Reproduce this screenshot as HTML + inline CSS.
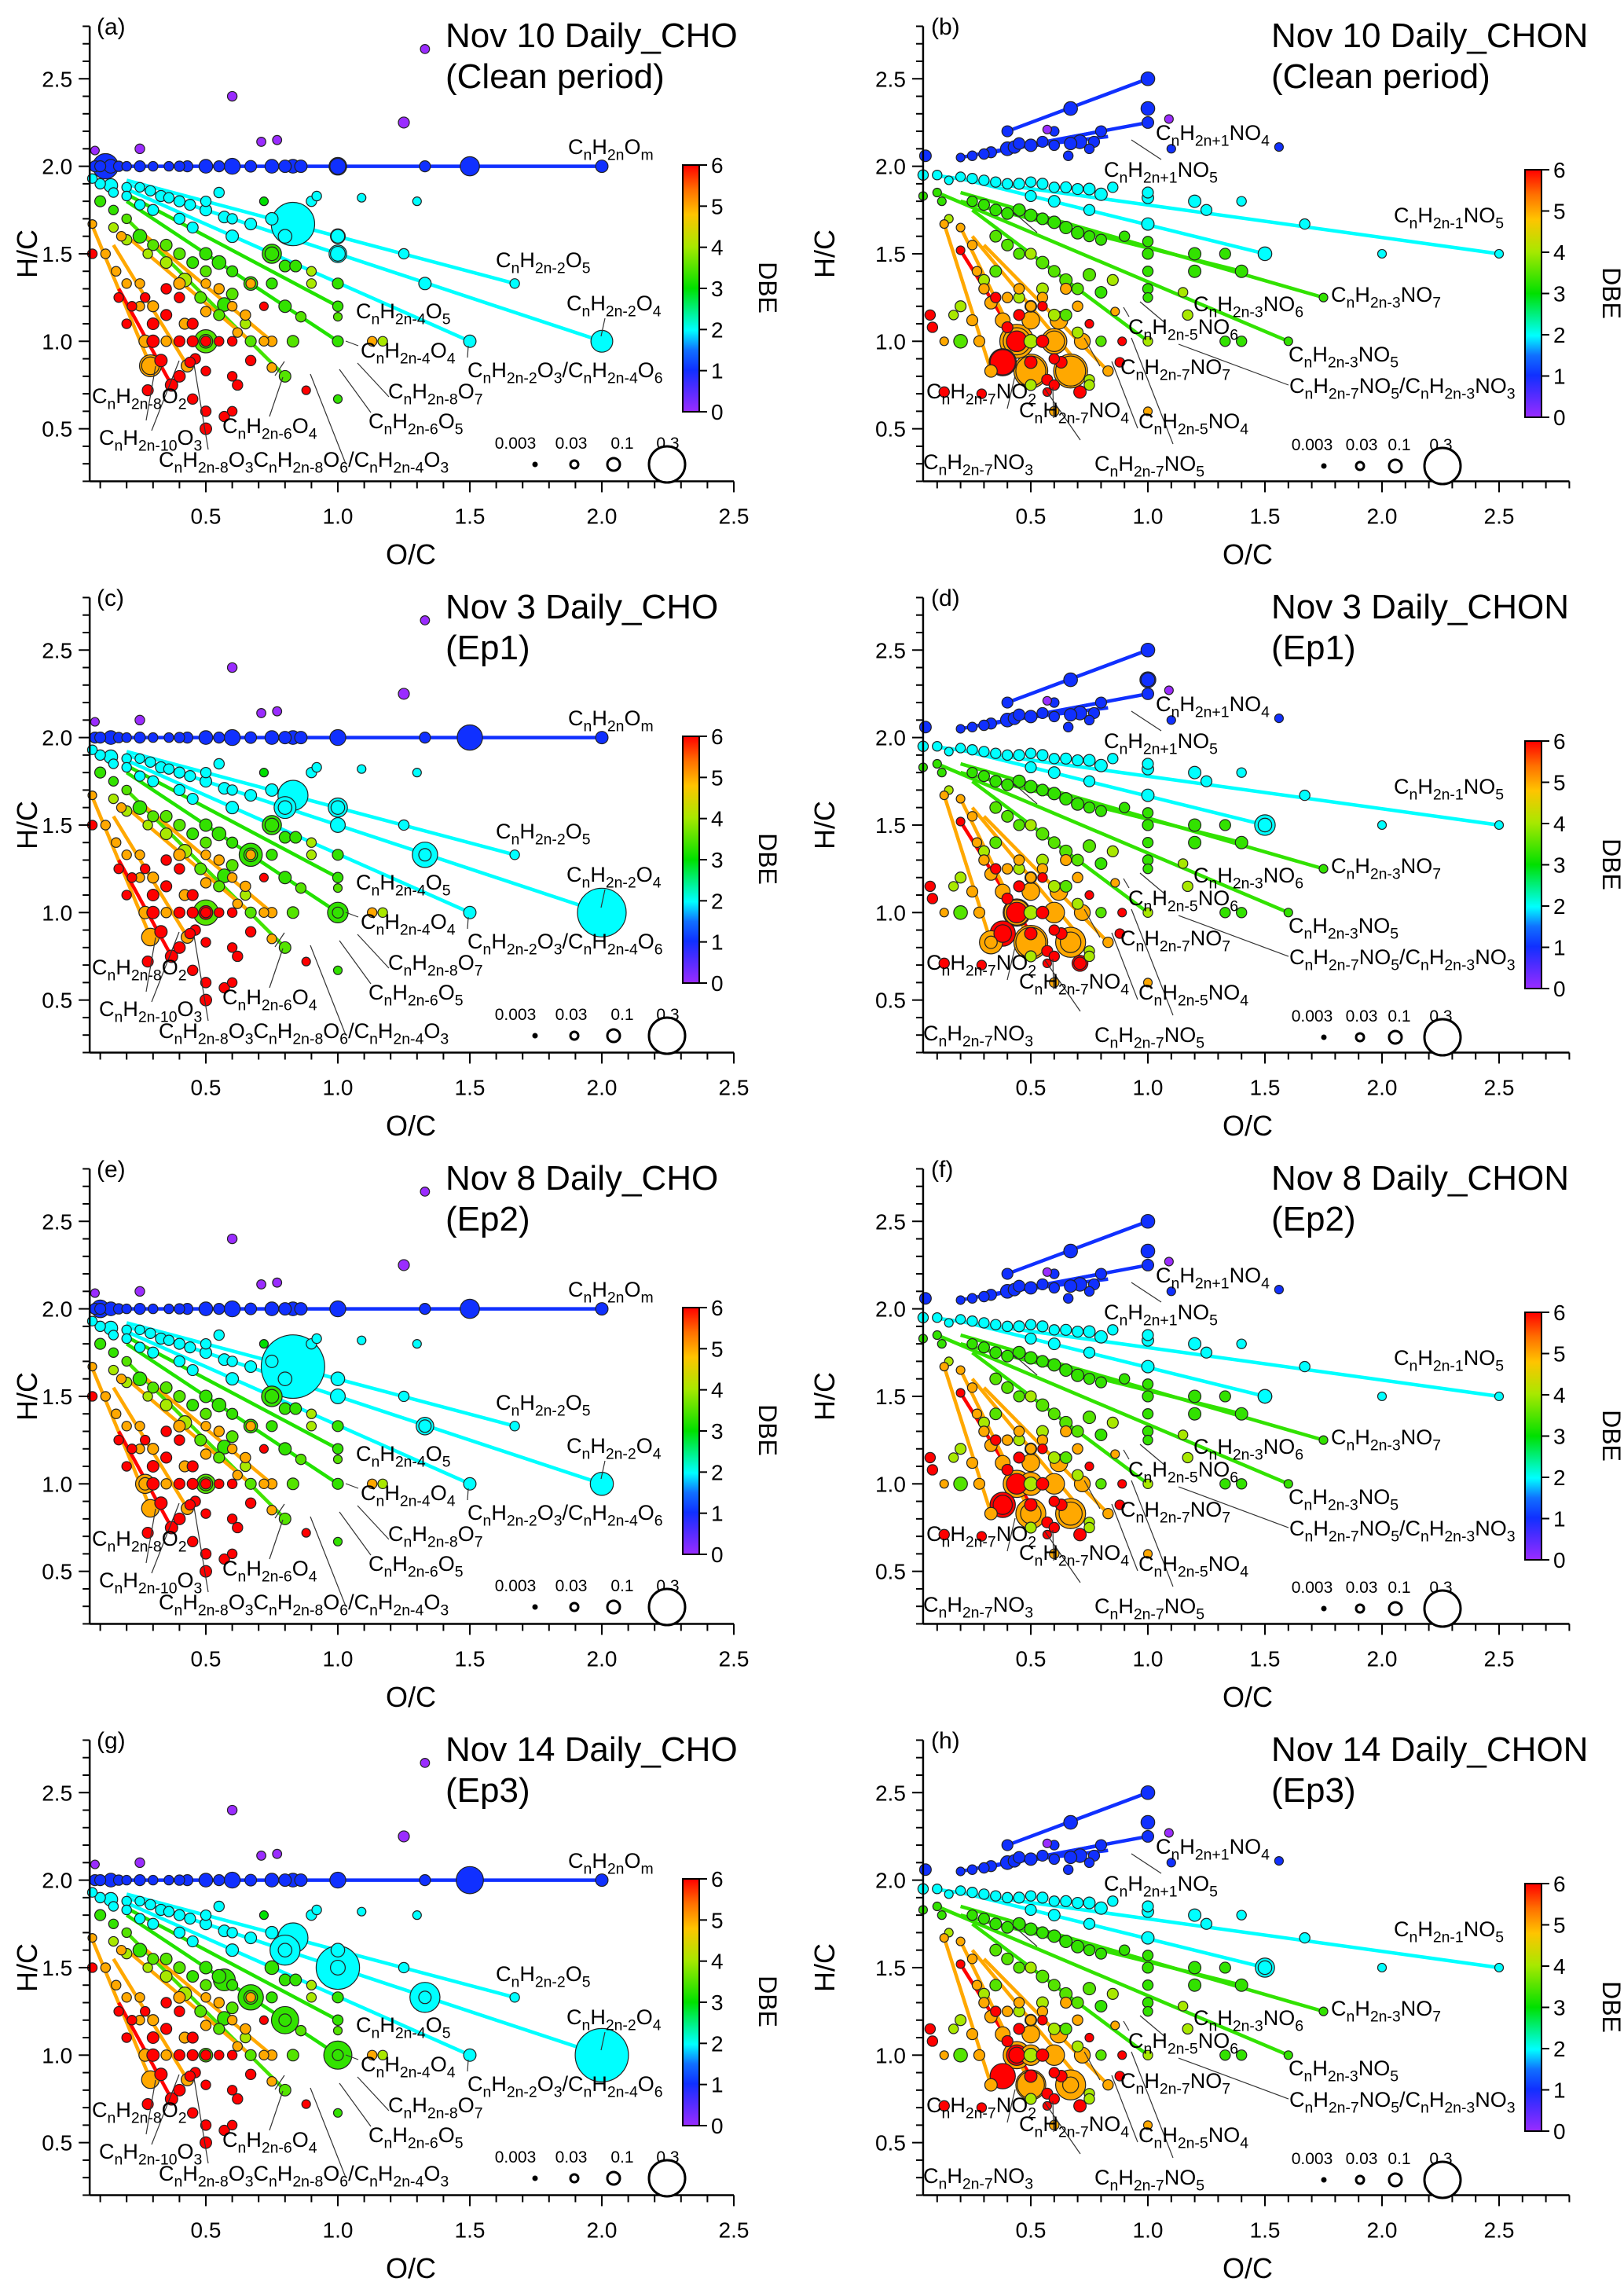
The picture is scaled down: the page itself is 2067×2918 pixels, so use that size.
<!DOCTYPE html>
<html><head><meta charset="utf-8">
<style>
html,body{margin:0;padding:0;background:#fff;}
svg{display:block;font-family:"Liberation Sans",Arial,sans-serif;}
</style></head>
<body>
<svg id="fig" width="2067" height="2918" viewBox="0 0 2067 2918" xmlns="http://www.w3.org/2000/svg">
<defs>
<linearGradient id="dbeGrad" x1="0" y1="1" x2="0" y2="0">
<stop offset="0" stop-color="#9a2cff"/>
<stop offset="0.1" stop-color="#4a2cff"/>
<stop offset="0.17" stop-color="#1030ff"/>
<stop offset="0.25" stop-color="#1070ff"/>
<stop offset="0.33" stop-color="#00ffff"/>
<stop offset="0.5" stop-color="#00e000"/>
<stop offset="0.67" stop-color="#a8e800"/>
<stop offset="0.8" stop-color="#ffc400"/>
<stop offset="0.9" stop-color="#ff7000"/>
<stop offset="1" stop-color="#ff0000"/>
</linearGradient>
</defs>
</svg>
<script>
// ---------- data ----------
const panelLetters = ['a','b','c','d','e','f','g','h'];
const panelTitles1 = ['Nov 10 Daily_CHO','Nov 10 Daily_CHON','Nov 3 Daily_CHO','Nov 3 Daily_CHON','Nov 8 Daily_CHO','Nov 8 Daily_CHON','Nov 14 Daily_CHO','Nov 14 Daily_CHON'];
const panelTitles2 = ['(Clean period)','(Clean period)','(Ep1)','(Ep1)','(Ep2)','(Ep2)','(Ep3)','(Ep3)'];
const xTickLabels = ['0.5','1.0','1.5','2.0','2.5'];
const xTickValues = [0.5,1.0,1.5,2.0,2.5];
const yTickLabels = ['0.5','1.0','1.5','2.0','2.5'];
const yTickValues = [0.5,1.0,1.5,2.0,2.5];
const dbeTicks = [0,1,2,3,4,5,6];
const sizeLegendLabels = ['0.003','0.03','0.1','0.3'];
const sizeLegendValues = [0.003,0.03,0.1,0.3];

// CHO family lines: [oc1,hc1,oc2,hc2,dbe]
const choLines = [
 [0.08,2.0,2.0,2.0,1],
 [0.2,1.92,1.67,1.33,2],
 [0.2,1.9,2.0,1.0,2],
 [0.2,1.87,1.5,1.0,2],
 [0.2,1.84,1.0,1.2,3.2],
 [0.2,1.8,1.0,1.0,3.2],
 [0.2,1.7,0.8,0.8,3.4],
 [0.25,1.63,0.75,1.0,5],
 [0.2,1.6,0.67,1.0,5],
 [0.07,1.66,0.29,0.86,5],
 [0.15,1.55,0.43,0.86,5],
 [0.17,1.3,0.37,0.75,6]
];
// CHO scatter: [oc,hc,dbe,size-fraction]
const choPts = [
 [0.08,2,1,.01],[0.1,2,1,.01],[0.14,2,1,.02],[0.17,2,1,.008],[0.2,2,1,.006],[0.25,2,1,.01],[0.3,2,1,.006],[0.36,2,1,.006],[0.4,2,1,.008],[0.43,2,1,.01],[0.5,2,1,.02],[0.55,2,1,.01],[0.6,2,1,.03],[0.67,2,1,.012],[0.75,2,1,.02],[0.8,2,1,.015],[0.83,2,1,.02],[0.86,2,1,.015],[1.0,2,1,.03],[1.33,2,1,.01],[2.0,2,1,.015],
 [0.6,2.4,0,.006],[1.33,2.67,0,.005],[1.25,2.25,0,.01],[0.71,2.14,0,.005],[0.77,2.15,0,.005],[0.25,2.1,0,.006],[0.08,2.09,0,.004],
 [0.07,1.93,2,.006],[0.1,1.9,2,.008],[0.14,1.89,2,.02],[0.2,1.88,2,.006],[0.25,1.88,2,.006],[0.29,1.86,2,.008],[0.33,1.83,2,.01],[0.36,1.82,2,.008],[0.4,1.8,2,.01],[0.44,1.78,2,.01],[0.5,1.8,2,.008],[0.5,1.75,2,.012],[0.57,1.71,2,.012],[0.6,1.7,2,.008],[0.6,1.6,2,.015],[0.67,1.67,2,.012],[0.75,1.7,2,.015],[0.8,1.6,2,.02],[0.9,1.8,2,.008],[1.0,1.6,2,.02],[1.0,1.5,2,.025],[1.25,1.5,2,.008],[1.33,1.33,2,.015],[1.67,1.33,2,.006],[1.5,1.0,2,.015],[1.09,1.82,2,.004],[1.3,1.8,2,.004],[0.25,1.78,2,.008],[0.3,1.75,2,.01],[0.4,1.7,2,.01],[0.45,1.65,2,.01],[0.55,1.85,2,.008],[0.2,1.83,2,.006],[0.15,1.85,2,.006],[0.92,1.83,2,.006],
 [0.1,1.8,3.3,.01],[0.15,1.75,3.3,.006],[0.2,1.7,3.5,.006],[0.25,1.6,3.3,.02],[0.3,1.55,3.5,.01],[0.35,1.55,3.5,.012],[0.4,1.5,3.5,.012],[0.45,1.45,3.3,.012],[0.5,1.5,3.3,.015],[0.5,1.4,3.5,.01],[0.55,1.45,3.3,.02],[0.6,1.4,3.3,.01],[0.67,1.33,3.3,.02],[0.6,1.27,3.5,.012],[0.57,1.21,3.3,.02],[0.75,1.5,3.3,.02],[0.8,1.43,3.3,.012],[0.75,1.33,3.3,.01],[0.8,1.2,3.3,.015],[0.86,1.14,3.5,.008],[1.0,1.33,3.3,.01],[1.0,1.2,3.3,.008],[1.0,1.14,3.5,.004],[1.0,1.0,3.3,.01],[0.83,1.0,3.5,.012],[0.8,0.8,3.5,.012],[0.67,1.0,3.5,.01],[0.5,1.0,3.5,.02],[0.2,1.58,4,.008],[0.28,1.5,4,.006],[0.35,1.45,4,.012],[0.42,1.35,4,.02],[0.48,1.25,3.5,.012],[0.55,1.15,3.5,.01],[0.65,1.1,4,.008],[1.17,1.0,4,.006],[1.0,0.67,3.3,.004],[0.15,1.65,4,.006],[0.9,1.4,4,.006],[0.9,1.33,4,.006],[0.84,1.43,3.3,.012],[0.72,1.8,3,.004],
 [0.07,1.67,5,.004],[0.12,1.5,5,.006],[0.16,1.4,5,.006],[0.2,1.33,5,.006],[0.25,1.2,5,.006],[0.27,1.0,5,.015],[0.29,0.86,5,.04],[0.4,1.33,5,.012],[0.42,1.1,5,.01],[0.43,0.86,5,.015],[0.5,1.17,5,.008],[0.6,1.2,5,.006],[0.62,1.05,5,.006],[0.67,1.33,5,.006],[0.72,1.0,5,.006],[0.75,1.0,5,.008],[0.3,1.2,5,.01],[0.35,1.0,5,.008],[0.5,1.33,5,.006],[0.55,1.3,5,.008],[1.13,1.0,5,.006],[0.65,1.15,5,.008],[0.25,1.33,5,.006],[0.18,1.6,5,.006],[0.75,0.85,5,.006],
 [0.07,1.5,6,.006],[0.17,1.25,6,.006],[0.2,1.1,6,.006],[0.3,1.0,6,.015],[0.33,0.89,6,.015],[0.37,0.75,6,.015],[0.4,0.8,6,.012],[0.3,1.1,6,.012],[0.35,1.15,6,.01],[0.4,1.0,6,.01],[0.45,1.0,6,.01],[0.45,1.1,6,.01],[0.5,1.0,6,.008],[0.5,0.83,6,.006],[0.5,0.6,6,.008],[0.5,0.5,6,.012],[0.45,0.67,6,.008],[0.28,0.72,6,.01],[0.6,0.8,6,.006],[0.62,0.75,6,.008],[0.57,0.57,6,.008],[0.6,0.6,6,.006],[0.6,1.0,6,.006],[0.67,0.89,6,.008],[0.72,1.2,6,.004],[0.88,0.72,6,.004],[0.55,1.0,6,.006],[0.35,1.3,6,.008],[0.4,1.25,6,.008],[0.27,1.25,6,.006],[0.22,1.2,6,.006],[0.46,0.9,6,.008],[0.44,0.88,6,.008]
];
// per-panel emphasized CHO bubbles
const choBigA = [[0.12,2.0,1,.1],[1.5,2.0,1,.05],[1.0,2.0,1,.04],[0.83,1.67,2,.35],[2.0,1.0,2,.07],[0.29,0.86,5,.07],[0.5,1.0,3.5,.08],[0.75,1.5,3.3,.05],[1.0,1.5,2,.04],[1.0,1.6,2,.025]];
const choBigC = [[1.5,2.0,1,.1],[2.0,1.0,2,.45],[0.83,1.67,2,.15],[1.33,1.33,2,.1],[1.0,1.6,2,.05],[0.5,1.0,3.5,.1],[0.67,1.33,3.3,.08],[0.75,1.5,3.3,.05],[0.8,1.6,2,.07],[1.0,1.0,3.3,.06],[0.5,1.0,6,.02]];
const choBigE = [[0.83,1.67,2,.8],[2.0,1.0,2,.08],[1.5,2.0,1,.05],[1.33,1.33,2,.04],[0.75,1.5,3.3,.06],[0.27,1.0,5,.05],[0.5,1.0,3.5,.05],[0.1,2.0,1,.04]];
const choBigG = [[2.0,1.0,2,.55],[1.0,1.5,2,.35],[1.5,2.0,1,.12],[0.83,1.67,2,.15],[0.8,1.6,2,.15],[1.33,1.33,2,.15],[0.8,1.2,3.3,.12],[1.0,1.0,3.3,.13],[0.67,1.33,3.3,.1],[0.57,1.43,3.3,.07]];

// CHON family lines
const chonLines = [
 [0.4,2.2,1.0,2.5,1],
 [0.2,2.05,1.0,2.25,1],
 [0.3,2.07,0.8,2.2,1],
 [0.4,2.1,0.83,2.17,1],
 [0.08,1.95,2.5,1.5,2],
 [0.2,1.93,1.5,1.5,2],
 [0.2,1.85,1.75,1.25,3.3],
 [0.1,1.85,1.6,1.0,3.3],
 [0.2,1.8,1.4,1.4,3.3],
 [0.25,1.75,1.0,1.0,3.3],
 [0.13,1.67,0.33,0.83,5],
 [0.2,1.52,0.5,0.88,6],
 [0.2,1.65,0.5,0.83,5],
 [0.25,1.6,0.71,0.86,5],
 [0.3,1.55,0.83,0.83,5]
];
const chonPts = [
 [0.05,2.06,1,.012],[0.2,2.05,1,.004],[0.25,2.06,1,.006],[0.3,2.07,1,.008],[0.33,2.08,1,.01],[0.4,2.1,1,.02],[0.43,2.11,1,.015],[0.45,2.13,1,.012],[0.5,2.12,1,.015],[0.55,2.14,1,.01],[0.6,2.12,1,.008],[0.67,2.13,1,.015],[0.71,2.14,1,.02],[0.75,2.1,1,.006],[0.4,2.2,1,.01],[0.6,2.2,1,.006],[0.67,2.33,1,.02],[0.8,2.2,1,.01],[1.0,2.5,1,.02],[1.0,2.33,1,.02],[1.0,2.25,1,.012],[1.1,2.1,1,.004],[1.56,2.11,1,.004],[0.57,2.21,0,.004],[1.09,2.27,0,.004],[0.66,2.06,1,.006],[0.77,2.14,1,.01],
 [0.04,1.95,2,.008],[0.1,1.95,2,.006],[0.2,1.94,2,.006],[0.25,1.93,2,.008],[0.3,1.92,2,.008],[0.35,1.91,2,.008],[0.4,1.9,2,.008],[0.45,1.9,2,.01],[0.5,1.91,2,.008],[0.55,1.9,2,.01],[0.6,1.88,2,.008],[0.65,1.88,2,.01],[0.7,1.87,2,.01],[0.75,1.87,2,.012],[0.8,1.84,2,.015],[0.85,1.88,2,.008],[0.5,1.83,2,.01],[0.6,1.8,2,.012],[0.75,1.75,2,.01],[1.0,1.85,2,.01],[1.0,1.82,2,.012],[1.0,1.67,2,.015],[1.2,1.8,2,.015],[1.25,1.75,2,.01],[1.4,1.8,2,.006],[1.67,1.67,2,.008],[1.5,1.5,2,.02],[2.0,1.5,2,.004],[2.5,1.5,2,.004],[0.15,1.92,2,.004],
 [0.04,1.83,3.3,.004],[0.1,1.85,3.3,.004],[0.12,1.8,3.3,.004],[0.25,1.8,3.3,.008],[0.3,1.78,3.3,.01],[0.35,1.75,3.3,.012],[0.4,1.73,3.3,.012],[0.45,1.75,3.3,.015],[0.5,1.72,3.3,.015],[0.55,1.7,3.3,.012],[0.6,1.68,3.3,.015],[0.65,1.65,3.3,.015],[0.7,1.62,3.3,.015],[0.75,1.6,3.3,.01],[0.8,1.58,3.3,.01],[0.9,1.6,3.3,.008],[1.0,1.57,3.3,.008],[1.0,1.5,3.3,.01],[1.0,1.4,3.3,.008],[1.0,1.3,3.3,.008],[1.0,1.25,3.3,.006],[1.2,1.5,3.3,.015],[1.33,1.5,3.3,.01],[1.2,1.4,3.3,.015],[1.4,1.4,3.3,.015],[1.75,1.25,3.3,.004],[1.6,1.0,3.3,.004],[1.33,1.0,3.3,.008],[1.4,1.0,3.3,.008],[1.17,1.15,4,.008],[1.15,1.28,4,.006],[0.35,1.6,3.5,.012],[0.4,1.55,3.5,.012],[0.45,1.5,3.5,.01],[0.5,1.5,4,.01],[0.55,1.45,3.5,.015],[0.6,1.4,3.5,.012],[0.65,1.35,3.5,.015],[0.7,1.3,3.5,.012],[0.75,1.38,3.5,.015],[0.8,1.28,3.3,.012],[0.85,1.35,4,.01],[1.0,1.0,4,.006],[0.3,1.35,4,.01],[0.35,1.4,3.5,.012],[0.45,1.25,4,.01],[0.5,1.2,4,.012],[0.55,1.3,4,.012],[0.6,1.15,4,.012],[0.65,1.15,3.5,.012],[0.7,1.05,4,.01],[0.8,1.0,3.5,.008],[0.2,1.0,3.5,.02],[0.5,1.0,4,.02],[0.2,1.2,4,.01],[0.17,1.15,4,.006],[0.75,0.78,4,.008],[0.15,1.7,4,.004],
 [0.13,1.67,5,.004],[0.2,1.65,5,.004],[0.25,1.55,5,.006],[0.27,1.4,5,.006],[0.3,1.3,5,.008],[0.33,1.22,5,.015],[0.38,1.12,5,.025],[0.33,0.83,5,.015],[0.44,1.0,5,.12],[0.5,0.83,5,.15],[0.67,0.83,5,.15],[0.6,1.0,5,.06],[0.5,1.12,5,.04],[0.62,1.12,5,.04],[0.72,1.0,5,.03],[0.83,0.83,5,.008],[0.25,1.12,5,.01],[0.28,1.0,5,.01],[0.13,1.0,5,.004],[0.4,1.25,5,.008],[0.45,1.3,5,.008],[0.5,1.2,5,.008],[0.55,1.25,5,.008],[0.65,1.3,5,.01],[0.7,1.2,5,.008],[0.6,0.6,5,.006],[1.0,0.6,5,.004],[0.75,0.75,4,.008],[0.86,1.17,5,.004],[0.5,0.75,4,.01],
 [0.07,1.15,6,.008],[0.08,1.08,6,.008],[0.2,1.52,6,.004],[0.38,0.88,6,.1],[0.44,1.0,6,.06],[0.5,0.88,6,.015],[0.4,1.08,6,.01],[0.35,1.25,6,.008],[0.45,1.15,6,.01],[0.55,1.0,6,.015],[0.57,0.78,6,.01],[0.6,0.75,6,.008],[0.63,0.88,6,.012],[0.6,0.9,6,.008],[0.71,0.71,6,.015],[0.13,0.71,6,.008],[0.29,0.7,6,.006],[0.57,0.71,6,.004],[0.88,0.88,6,.006],[0.89,1.0,6,.004],[0.75,1.1,6,.004],[0.55,1.2,6,.006]
];
const chonBigB = [[0.38,0.88,6,.12],[0.5,0.83,5,.2],[0.67,0.83,5,.2],[0.44,1.0,5,.2],[0.6,1.0,5,.1],[0.44,1.0,6,.06]];
const chonBigD = [[0.33,0.83,5,.08],[0.5,0.83,5,.2],[0.67,0.83,5,.06],[0.44,1.0,5,.1],[0.38,0.88,6,.04],[1.5,1.5,2,.06],[1.0,2.33,1,.03],[0.71,0.71,6,.03]];
const chonBigF = [[0.67,0.83,5,.08],[0.5,1.0,5,.08],[0.38,0.88,6,.05],[0.5,0.83,5,.06],[1.5,1.5,2,.02]];
const chonBigH = [[0.5,0.83,5,.12],[0.5,1.0,5,.06],[1.5,1.5,2,.05],[0.44,1.0,6,.03],[0.67,0.83,5,.03]];

// annotations: [text, panel-relative x, baseline y]
const choLabels = [
 ['C_nH_{2n}O_m',723,196],['C_nH_{2n-2}O_5',631,340],['C_nH_{2n-2}O_4',721,395],['C_nH_{2n-4}O_5',453,405],
 ['C_nH_{2n-4}O_4',459,455],['C_nH_{2n-2}O_3/C_nH_{2n-4}O_6',595,480],['C_nH_{2n-8}O_7',494,507],['C_nH_{2n-6}O_5',469,545],
 ['C_nH_{2n-8}O_2',117,513],['C_nH_{2n-10}O_3',126,566],['C_nH_{2n-6}O_4',283,551],['C_nH_{2n-8}O_3C_nH_{2n-8}O_6/C_nH_{2n-4}O_3',202,594]
];
const chonLabels = [
 ['C_nH_{2n+1}NO_4',441,178],['C_nH_{2n+1}NO_5',375,225],['C_nH_{2n-1}NO_5',744,283],['C_nH_{2n-3}NO_7',664,384],
 ['C_nH_{2n-3}NO_6',489,396],['C_nH_{2n-5}NO_6',406,425],['C_nH_{2n-3}NO_5',610,460],['C_nH_{2n-7}NO_7',396,476],
 ['C_nH_{2n-7}NO_5/C_nH_{2n-3}NO_3',611,500],['C_nH_{2n-7}NO_2',149,507],['C_nH_{2n-7}NO_4',267,531],['C_nH_{2n-5}NO_4',419,545],
 ['C_nH_{2n-7}NO_3',145,597],['C_nH_{2n-7}NO_5',363,599]
];
// leader lines in panel-relative pixels
const choLeaders = [[770,405,765,428],[595,455,596,440],[350,478,362,460],[186,535,198,466],[193,548,228,459],[265,572,247,464],[343,530,360,480],[440,590,395,476],[472,525,432,470],[495,505,455,462],[456,440,440,434]];
const chonLeaders = [[290,296,260,270],[448,203,410,178],[530,411,532,410],[453,411,421,384],[407,403,400,391],[610,490,470,438],[370,466,350,430],[252,520,262,478],[311,532,310,493],[345,560,300,495],[463,565,410,430],[418,545,385,460]];

// ---------- helpers ----------
const svg = document.getElementById('fig');
const NS = 'http://www.w3.org/2000/svg';
function mk(tag, attrs, parent){
  const e = document.createElementNS(NS, tag);
  for (const k in attrs) e.setAttribute(k, attrs[k]);
  (parent||svg).appendChild(e);
  return e;
}
const cstops = [[0,[154,44,255]],[0.6,[74,44,255]],[1,[16,48,255]],[1.5,[16,112,255]],[2,[0,255,255]],[3,[0,224,0]],[4,[168,232,0]],[4.8,[255,196,0]],[5.4,[255,112,0]],[6,[255,0,0]]];
function dbeColor(v){
  for (let i=1;i<cstops.length;i++){
    if (v<=cstops[i][0]){
      const a=cstops[i-1], b=cstops[i], t=(v-a[0])/(b[0]-a[0]);
      const c=a[1].map((x,j)=>Math.round(x+(b[1][j]-x)*t));
      return 'rgb('+c.join(',')+')';
    }
  }
  return 'rgb(255,0,0)';
}
function radius(s){ return 2.8 + 42*Math.sqrt(s); }
function addRich(parent, str, x, y, size){
  const t = mk('text',{x:x,y:y,'font-size':size,fill:'#000'},parent);
  // tokenize into [text, isSub]
  const toks=[]; let i=0, buf='';
  while(i<str.length){
    const ch=str[i];
    if(ch==='_'){
      if(buf){toks.push([buf,false]);buf='';}
      let sub;
      if(str[i+1]==='{'){ const j=str.indexOf('}',i); sub=str.slice(i+2,j); i=j+1; }
      else { sub=str[i+1]; i+=2; }
      toks.push([sub,true]);
    } else { buf+=ch; i++; }
  }
  if(buf) toks.push([buf,false]);
  let lowered=false;
  toks.forEach(tk=>{
    const s=mk('tspan',{},t);
    if(tk[1]){
      s.setAttribute('font-size',size*0.72);
      if(!lowered){ s.setAttribute('dy',size*0.28); lowered=true; }
    } else {
      if(lowered){ s.setAttribute('dy',-size*0.28); lowered=false; }
    }
    s.textContent=tk[0];
  });
  return t;
}

function drawPanel(idx){
  const row = Math.floor(idx/2), col = idx%2;
  const dy = row*727;
  const isCHO = col===0;
  const g = mk('g',{});
  
  
  const x0 = isCHO ? 94 : 1163, xs = isCHO ? 336 : 298;
  const xMin = isCHO ? 0.06 : 0.04, xMax = isCHO ? 2.5 : 2.8;
  const X = v => x0 + xs*v;
  const Y = v => dy + 657 - 222.7*v;
  const yMin=0.2, yMax=2.8;
  const L = X(xMin), R = X(xMax), B = Y(yMin), T = Y(yMax);

  const lines = isCHO ? choLines : chonLines;
  const lg = mk('g',{},g);
  
  
  lines.forEach(l=>{
    const e = mk('line',{x1:X(l[0]),y1:Y(l[1]),x2:X(l[2]),y2:Y(l[3]),stroke:dbeColor(l[4]),'stroke-width':4.5},lg);
    
    
  });
  const bigSets = [choBigA,chonBigB,choBigC,chonBigD,choBigE,chonBigF,choBigG,chonBigH];
  const pts = (isCHO ? choPts : chonPts).concat(bigSets[idx]).slice().sort((a,b)=>b[3]-a[3]);
  const pg = mk('g',{},g);
  
  
  pts.forEach(p=>{
    const c = mk('circle',{cx:X(p[0]),cy:Y(p[1]),r:radius(p[3]).toFixed(1),fill:dbeColor(p[2]),stroke:'#222','stroke-width':1.2},pg);
    
    
  });

  const ax = mk('g',{stroke:'#000','stroke-width':2.5},g);
  
  
  mk('line',{x1:L,y1:B,x2:R,y2:B},ax);
  mk('line',{x1:L,y1:B,x2:L,y2:T},ax);
  for(let v=Math.ceil(xMin*10);v<=Math.round(xMax*10);v++){
    const major = v%5===0;
    mk('line',{x1:X(v/10),y1:B,x2:X(v/10),y2:B+(major?14:9),'stroke-width':2},ax);
  }
  for(let v=2;v<=28;v++){
    const major = v%5===0;
    mk('line',{x1:L,y1:Y(v/10),x2:L-(major?14:9),y2:Y(v/10),'stroke-width':2},ax);
  }
  xTickValues.forEach((v,i)=>{
    const t=mk('text',{x:X(v),y:B+54,'font-size':28,'text-anchor':'middle'},g);
    t.textContent=xTickLabels[i];
    
    
  });
  yTickValues.forEach((v,i)=>{
    const t=mk('text',{x:L-22,y:Y(v)+10,'font-size':28,'text-anchor':'end'},g);
    t.textContent=yTickLabels[i];
    
    
  });
  const xt=mk('text',{x:(isCHO?523:1588),y:dy+718,'font-size':36,'text-anchor':'middle'},g);
  xt.textContent='O/C';
  
  
  const yx = isCHO?47:1062;
  const yt=mk('text',{x:yx,y:dy+323,'font-size':36,'text-anchor':'middle',transform:'rotate(-90 '+yx+' '+(dy+323)+')'},g);
  yt.textContent='H/C';
  
  

  const pl=mk('text',{x:isCHO?123:1185,y:dy+44,'font-size':30},g);
  pl.textContent='('+panelLetters[idx]+')';
  
  
  const tx = isCHO?567:1618;
  const t1=mk('text',{x:tx,y:dy+60,'font-size':44},g);
  t1.textContent=panelTitles1[idx];
  
  
  const t2=mk('text',{x:tx,y:dy+112,'font-size':44},g);
  t2.textContent=panelTitles2[idx];
  
  

  const ox = isCHO?0:1030;
  const ag = mk('g',{},g);
  
  
  (isCHO?choLeaders:chonLeaders).forEach(l=>{
    mk('line',{x1:ox+l[0],y1:dy+l[1],x2:ox+l[2],y2:dy+l[3],stroke:'#333','stroke-width':1.2},ag);
  });
  (isCHO?choLabels:chonLabels).forEach(a=>{
    const t=addRich(ag,a[0],ox+a[1],dy+a[2],27);
    
    
  });

  const cbx = isCHO?869:1941, cbT = dy+(isCHO?210:216), cbB = dy+(isCHO?524:531);
  const cg = mk('g',{},g);
  
  
  mk('rect',{x:cbx,y:cbT,width:21,height:cbB-cbT,fill:'url(#dbeGrad)',stroke:'#000','stroke-width':2},cg);
  dbeTicks.forEach(v=>{
    const yy = cbB - (cbB-cbT)*v/6;
    mk('line',{x1:cbx+21,y1:yy,x2:cbx+31,y2:yy,stroke:'#000','stroke-width':2},cg);
    const t=mk('text',{x:cbx+36,y:yy+10,'font-size':28},cg);
    t.textContent=String(v);
    
    
  });
  const dx = isCHO?966:2040, dyc = dy+(isCHO?366:373);
  const dt=mk('text',{x:dx,y:dyc,'font-size':32,'text-anchor':'middle',transform:'rotate(90 '+dx+' '+dyc+')'},cg);
  dt.textContent='DBE';
  
  

  const sg = mk('g',{},g);
  
  
  const labX = isCHO?[656,727,792,850]:[1670,1733,1781,1834];
  const cirX = isCHO?[681,731,781,849]:[1685,1731,1776,1836];
  const lys = isCHO?[571,591]:[573,593];
  sizeLegendValues.forEach((v,i)=>{
    const t=mk('text',{x:labX[i],y:dy+lys[0],'font-size':21,'text-anchor':'middle'},sg);
    t.textContent=sizeLegendLabels[i];
    
    
    const c=mk('circle',{cx:cirX[i],cy:dy+lys[1],r:[3,5,8,23][i],fill:i===0?'#000':'#fff',stroke:'#000','stroke-width':i===0?1:3},sg);
    
    
  });
}
for(let i=0;i<8;i++) drawPanel(i);
</script>
</body></html>
